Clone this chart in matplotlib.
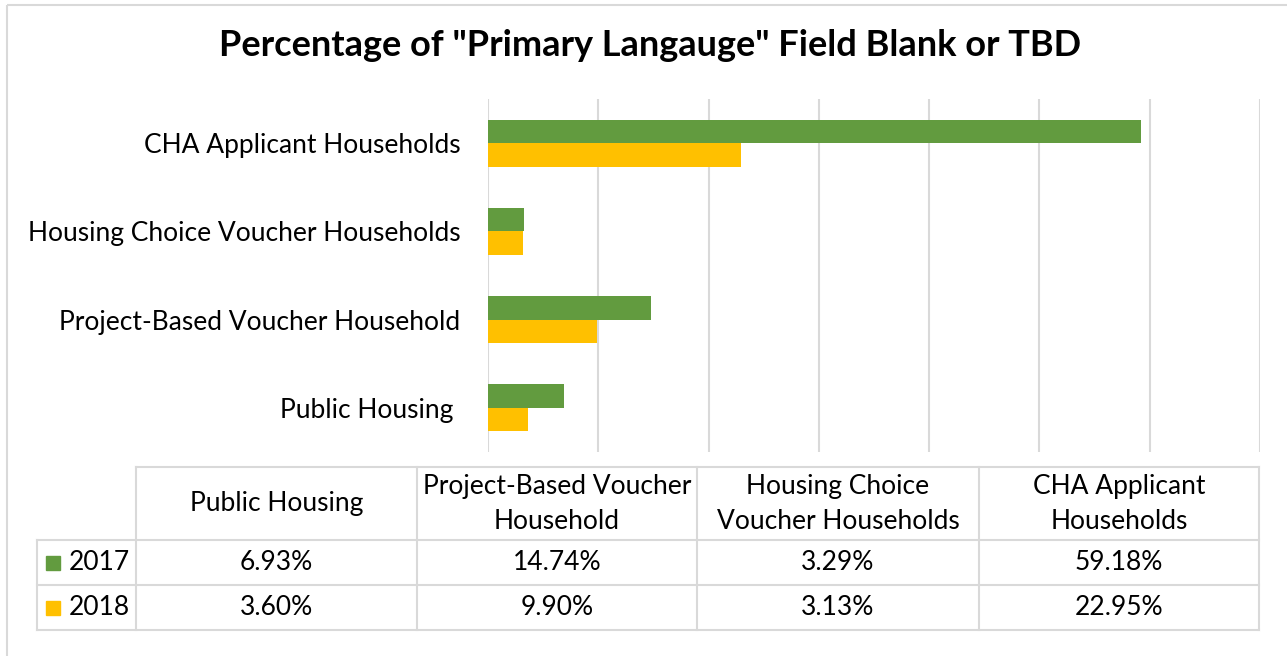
import matplotlib.pyplot as plt
from matplotlib.patches import Rectangle

plt.rcParams['font.family'] = ['Lato', 'DejaVu Sans']

categories = ["Public Housing ", "Project-Based Voucher Household",
              "Housing Choice Voucher Households", "CHA Applicant Households"]
header_labels = ["Public Housing", "Project-Based Voucher\nHousehold",
                 "Housing Choice\nVoucher Households", "CHA Applicant\nHouseholds"]
series = ["2017", "2018"]
vals_2017 = [6.93, 14.74, 3.29, 59.18]
vals_2018 = [3.60, 9.90, 3.13, 22.95]
colors = ["#629B3F", "#FFC000"]

W, H = 1287, 656
fig = plt.figure(figsize=(W / 100, H / 100), dpi=100)

# bar chart
ax = fig.add_axes([488 / W, 1 - 452 / H, 772 / W, 353 / H])
h = 0.265
y = list(range(len(categories)))
ax.barh([i + h / 2 for i in y], vals_2017, height=h, color=colors[0], zorder=3)
ax.barh([i - h / 2 for i in y], vals_2018, height=h, color=colors[1], zorder=3)
ax.set_xlim(0, 70)
ax.set_ylim(-0.5, 3.5)
ax.set_xticks(range(0, 71, 10))
ax.xaxis.grid(True, color="#D9D9D9", linewidth=1.5, zorder=0)
ax.tick_params(axis="x", length=0, labelbottom=False)
ax.tick_params(axis="y", length=0, pad=20, labelsize=19)
ax.set_yticks(y)
ax.set_yticklabels(categories)
for s in ax.spines.values():
    s.set_visible(False)

# overlay for title, table and border
ov = fig.add_axes([0, 0, 1, 1], zorder=-1)
ov.set_xlim(0, W)
ov.set_ylim(H, 0)
ov.axis("off")
ov.add_patch(Rectangle((7, 5), W + 20, H + 20, fill=False, edgecolor="#D9D9D9", linewidth=1.5))
ov.text(650, 45, 'Percentage of "Primary Langauge" Field Blank or TBD',
        ha="center", va="center", fontsize=26, fontweight="bold", color="#000000")

grid_c = "#D9D9D9"
col_x = [37, 136, 417, 697, 979, 1259]
row_y = [467, 540, 585, 630]
lw = 1.5
# horizontal lines
ov.plot([col_x[1], col_x[-1]], [row_y[0]] * 2, color=grid_c, lw=lw)
for ry in row_y[1:]:
    ov.plot([col_x[0], col_x[-1]], [ry] * 2, color=grid_c, lw=lw)
# vertical lines
ov.plot([col_x[0]] * 2, [row_y[1], row_y[-1]], color=grid_c, lw=lw)
for cx in col_x[1:]:
    ov.plot([cx] * 2, [row_y[0], row_y[-1]], color=grid_c, lw=lw)

fs = 19
for j, lab in enumerate(header_labels):
    ov.text((col_x[j + 1] + col_x[j + 2]) / 2, 504, lab, ha="center", va="center",
            fontsize=fs, linespacing=1.5)
for r, (name, vals) in enumerate(zip(series, [vals_2017, vals_2018])):
    cy = (row_y[r + 1] + row_y[r + 2]) / 2
    ov.add_patch(Rectangle((46, cy - 7), 14, 14, color=colors[r]))
    ov.text(69, cy, name, ha="left", va="center", fontsize=fs)
    for j, v in enumerate(vals):
        ov.text((col_x[j + 1] + col_x[j + 2]) / 2, cy, f"{v:.2f}%",
                ha="center", va="center", fontsize=fs)

fig.savefig("out.png", dpi=100)
